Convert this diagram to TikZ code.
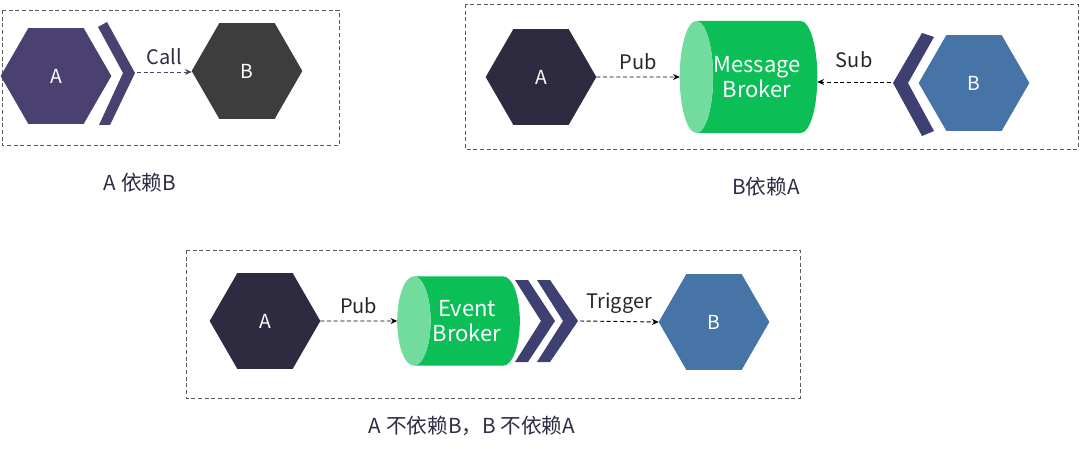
\documentclass[tikz,border=0pt]{standalone}
\usepackage{fontspec}
\setmainfont{Noto Sans CJK SC}
\usetikzlibrary{shapes.geometric,arrows.meta}

\definecolor{hexpurple}{HTML}{4B4170}
\definecolor{hexgray}{HTML}{3D3D3D}
\definecolor{hexdark}{HTML}{2E2A40}
\definecolor{hexblue}{HTML}{4674A6}
\definecolor{chevnavy}{HTML}{3D4070}
\definecolor{brokergreen}{HTML}{0BBF56}
\definecolor{brokerface}{HTML}{72DC9F}
\definecolor{captext}{HTML}{2D2D45}

\tikzset{
  hexnode/.style={regular polygon, regular polygon sides=6, minimum size=83pt,
    inner sep=0pt, outer sep=0pt, text=white, font=\fontsize{14.5}{16}\selectfont},
  broker/.style={cylinder, shape border rotate=180, aspect=0.8, draw=none,
    cylinder uses custom fill, cylinder body fill=brokergreen,
    cylinder end fill=brokerface, inner sep=0pt, outer sep=0pt,
    text=white, align=center, font=\fontsize{16.5}{19}\selectfont},
  frame/.style={draw=black!65, dash pattern=on 3pt off 2pt, line width=0.6pt},
  flow/.style={->, densely dashed, line width=0.7pt},
  lbl/.style={font=\fontsize{15}{18}\selectfont, text=black!85},
  caption/.style={font=\fontsize{15.5}{18}\selectfont, text=captext}
}

\begin{document}
\begin{tikzpicture}[x=0.75pt, y=-0.75pt, >={Stealth[length=5pt,width=4.5pt]}]
  \useasboundingbox (0,0) rectangle (1080,449);

  % A depends on B
  \draw[frame] (2,10) rectangle (339,145);
  \node[hexnode, fill=hexpurple] (a1) at (56,76) {A};
  \node[hexnode, fill=hexgray] (b1) at (247,71) {B};
  \fill[hexpurple] (98,27) -- (107,22) -- (135,73) -- (110,125) -- (99,125) -- (123,73) -- cycle;
  \coordinate (calltip) at (137,72);
  \draw[flow, hexpurple] (calltip) -- node[lbl, above=2pt, text=captext]{Call} (b1.west |- calltip);
  \node[caption] (cap1) at (140,183) {A 依赖B};

  % B depends on A
  \draw[frame] (465,4) rectangle (1078,149);
  \node[hexnode, fill=hexdark] (a2) at (541,77) {A};
  \node[broker, minimum width=84pt, minimum height=78pt] (msg) at (757,77) {Message\\Broker};
  \node[hexnode, fill=hexblue] (b2) at (974,83) {B};
  \fill[chevnavy] (922,33) -- (934,37) -- (908,83) -- (934,131) -- (922,136) -- (893,83) -- cycle;
  \coordinate (subtip) at (891,82);
  \draw[flow] (a2.east) -- node[lbl, above=2pt]{Pub} (msg.west);
  \draw[flow] (subtip) -- node[lbl, above=7pt]{Sub} (msg.east |- subtip);
  \node[caption] (cap2) at (766,187) {B依赖A};

  % neither depends on the other
  \draw[frame] (186,250) rectangle (800,398);
  \node[hexnode, fill=hexdark] (a3) at (265,321) {A};
  \fill[chevnavy] (515,280) -- (528,280) -- (555,321) -- (528,362) -- (515,362) -- (541,321) -- cycle;
  \fill[chevnavy] (537,280) -- (550,280) -- (578,321) -- (550,362) -- (537,362) -- (563,321) -- cycle;
  \node[broker, minimum width=67pt, minimum height=92pt] (ev) at (467,321) {Event\\Broker};
  \node[hexnode, fill=hexblue] (b3) at (714,322) {B};
  \coordinate (trigtip) at (580,321);
  \draw[flow] (a3.east) -- node[lbl, above=2pt]{Pub} (ev.west);
  \draw[flow] (trigtip) -- node[lbl, above=2pt]{Trigger} (b3.west);
  \node[caption] (cap3) at (472,426) {A 不依赖B，B 不依赖A};
\end{tikzpicture}
\end{document}
